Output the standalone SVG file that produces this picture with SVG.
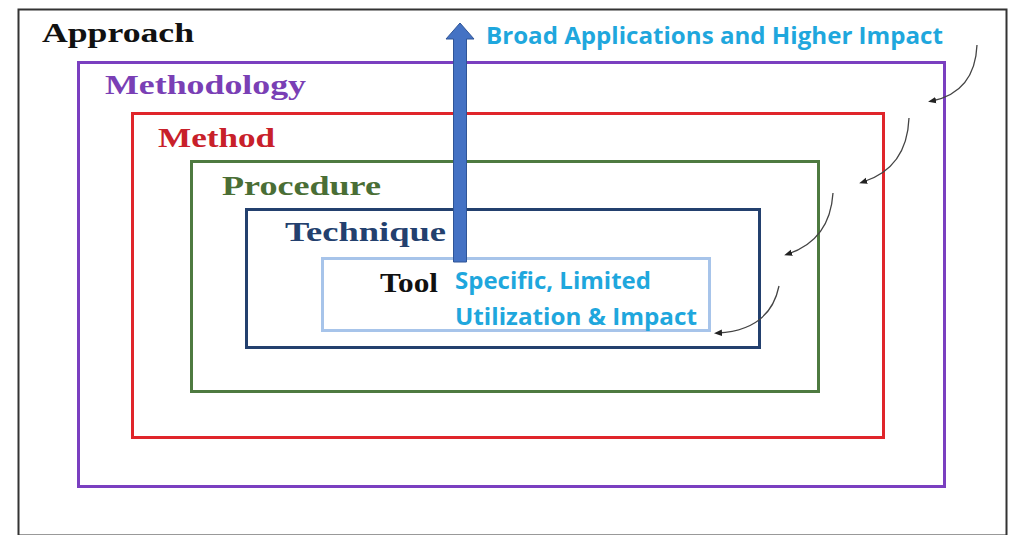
<svg xmlns="http://www.w3.org/2000/svg" width="1009" height="535" viewBox="0 0 1009 535">
<style>
.box{fill:none;stroke-width:3}
.lbl{font-family:"Liberation Serif","DejaVu Serif",serif;font-weight:bold;font-size:28px}
.cy{font-family:"Open Sans","Liberation Sans",sans-serif;font-weight:bold;font-size:23px;fill:#1fa7dd}
.cur{fill:none;stroke:#444;stroke-width:1.3;marker-end:url(#dot)}
</style>
<defs>
<marker id="dot" markerWidth="8" markerHeight="8" refX="4" refY="4" orient="auto" markerUnits="userSpaceOnUse">
<path d="M8,4 L0,0.8 L0,7.2 Z" fill="#222"/>
</marker>
</defs>
<rect width="1009" height="535" fill="#fff"/>
<g id="approach">
<rect x="18.5" y="9.5" width="988" height="526" fill="none" stroke="#333" stroke-width="2"/>
<text class="lbl" x="42" y="42" fill="#111" textLength="152" lengthAdjust="spacingAndGlyphs">Approach</text>
</g>
<g id="methodology">
<rect class="box" x="78.5" y="62.5" width="866" height="424" stroke="#7a3fc0"/>
<text class="lbl" x="105" y="94" fill="#7a3fb5" textLength="201" lengthAdjust="spacingAndGlyphs">Methodology</text>
</g>
<g id="method">
<rect class="box" x="132.5" y="113.5" width="751" height="324" stroke="#e0252a"/>
<text class="lbl" x="158" y="147" fill="#c8202a" textLength="117" lengthAdjust="spacingAndGlyphs">Method</text>
</g>
<g id="procedure">
<rect class="box" x="191.5" y="161.5" width="627" height="230" stroke="#4e7a40"/>
<text class="lbl" x="222" y="195" fill="#4a6e35" textLength="159" lengthAdjust="spacingAndGlyphs">Procedure</text>
</g>
<g id="technique">
<rect class="box" x="246.5" y="209.5" width="513" height="138" stroke="#23406e"/>
<text class="lbl" x="285" y="241" fill="#23406e" textLength="161" lengthAdjust="spacingAndGlyphs">Technique</text>
</g>
<g id="tool">
<rect class="box" x="322.5" y="258.5" width="387" height="72" stroke="#a7c4ea"/>
<text class="lbl" x="380" y="292" fill="#111" font-size="26" textLength="58" lengthAdjust="spacingAndGlyphs">Tool</text>
<text class="cy" x="455" y="289" font-size="24" textLength="196" lengthAdjust="spacingAndGlyphs">Specific, Limited</text>
<text class="cy" x="455" y="325" font-size="24" textLength="242" lengthAdjust="spacingAndGlyphs">Utilization &amp; Impact</text>
</g>
<g id="broad">
<text class="cy" x="486" y="44" textLength="457" lengthAdjust="spacingAndGlyphs">Broad Applications and Higher Impact</text>
</g>
<g id="connectors">
<path d="M453.5,262 L453.5,39 L446,39 L460,23 L474,39 L466.5,39 L466.5,262 Z" fill="#4472c4" stroke="#2f5597" stroke-width="1"/>
<path class="cur" d="M977,45 Q975,92 932,101"/>
<path class="cur" d="M909,118 Q907,168 863,182"/>
<path class="cur" d="M833,193 Q830,240 788,254"/>
<path class="cur" d="M779,286 Q770,330 718,333"/>
</g>
</svg>
